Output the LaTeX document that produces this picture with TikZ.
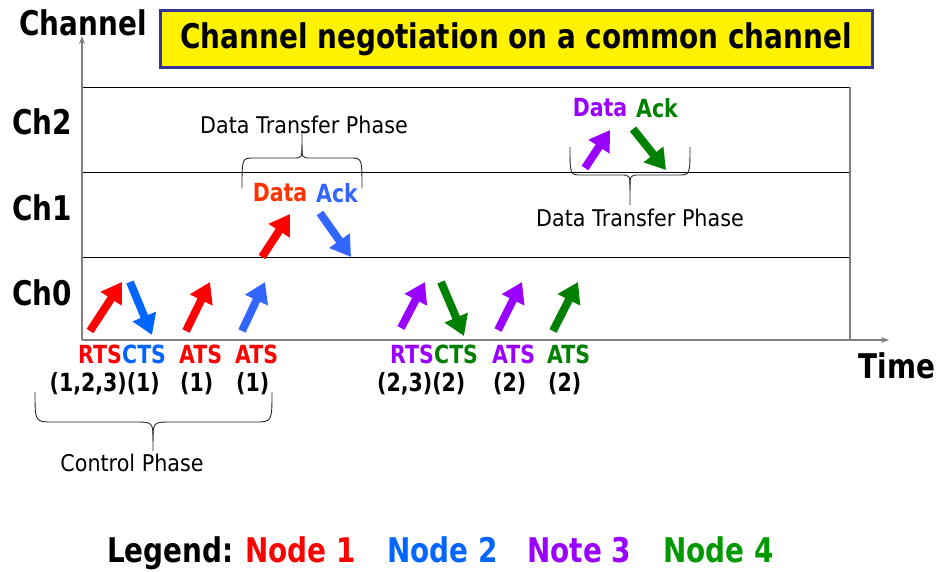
\documentclass[tikz,border=0pt]{standalone}
\usepackage{fontspec}
\setmainfont{DejaVu Sans}[FakeStretch=0.9]
\newfontfamily\narrowbold{DejaVu Sans}[FakeStretch=0.82]
\usetikzlibrary{arrows.meta}

\definecolor{nodeA}{HTML}{FF0000}
\definecolor{nodeB}{HTML}{0066FF}
\definecolor{nodeBl}{HTML}{3366FF}
\definecolor{nodeC}{HTML}{9900FF}
\definecolor{nodeD}{HTML}{008000}
\definecolor{nodeDl}{HTML}{009900}
\definecolor{dataRed}{HTML}{FF3300}
\definecolor{axisGray}{HTML}{808080}
\definecolor{frameBlue}{HTML}{333399}

\tikzset{
  big/.style={font=\narrowbold\bfseries\fontsize{34}{34}\selectfont, inner sep=0pt},
  lbl/.style={font=\narrowbold\bfseries\fontsize{25}{25}\selectfont, inner sep=0pt},
  note/.style={font=\fontsize{23}{23}\selectfont, inner sep=0pt},
  fat/.style={line width=8pt, line cap=butt, -{Triangle[width=24pt,length=20pt]}},
  axis/.style={draw=axisGray, line width=1.5pt, -{Stealth[width=6pt,length=8pt]}},
  grid/.style={draw=black, line width=1pt},
  brace/.style={draw=black!85, line width=0.9pt},
}

\begin{document}
\begin{tikzpicture}[x=1pt, y=-1pt]
\useasboundingbox (0,0) rectangle (943,571);

% channel rows
\draw[grid] (82,87) -- (850,87);
\draw[grid] (82,172) -- (850,172);
\draw[grid] (82,257) -- (850,257);
\draw[draw=axisGray, line width=1.5pt] (850,87) -- (850,340);

% axes
\coordinate (origin) at (82,340);
\coordinate (ytop) at (82,36);
\coordinate (xend) at (889,340);
\draw[axis] (origin) -- (ytop);
\draw[axis] (origin) -- (xend);

\node[big] (chlabel) at (83,23) {Channel};
\node[big] (timelabel) at (897,366) {Time};

% title
\node[draw=frameBlue, line width=3pt, fill=yellow, minimum width=712pt, minimum height=57pt, inner sep=0pt] (title) at (516,38.5) {};
\node[big] (titletext) at (516,39) {Channel negotiation on a common channel};

% channel names
\node[big] (ch2) at (42,122) {Ch2};
\node[big] (ch1) at (42,208) {Ch1};
\node[big] (ch0) at (42,293) {Ch0};

% control-channel message arrows
\coordinate (rtsAa) at (90,331);  \coordinate (rtsAb) at (122,282);
\coordinate (ctsBa) at (130,282); \coordinate (ctsBb) at (152,335);
\coordinate (atsAa) at (186,331); \coordinate (atsAb) at (210,282);
\coordinate (atsBa) at (242,331); \coordinate (atsBb) at (265,282);
\coordinate (rtsCa) at (401,328); \coordinate (rtsCb) at (425,282);
\coordinate (ctsDa) at (441,282); \coordinate (ctsDb) at (464,336);
\coordinate (atsCa) at (498,330); \coordinate (atsCb) at (522,282);
\coordinate (atsDa) at (553,331); \coordinate (atsDb) at (578,282);
\draw[fat, nodeA] (rtsAa) -- (rtsAb);
\draw[fat, nodeB] (ctsBa) -- (ctsBb);
\draw[fat, nodeA] (atsAa) -- (atsAb);
\draw[fat, nodeBl] (atsBa) -- (atsBb);
\draw[fat, nodeC] (rtsCa) -- (rtsCb);
\draw[fat, nodeD] (ctsDa) -- (ctsDb);
\draw[fat, nodeC] (atsCa) -- (atsCb);
\draw[fat, nodeD] (atsDa) -- (atsDb);

% data transfer arrows
\coordinate (dataAa) at (262,257); \coordinate (dataAb) at (290,214);
\coordinate (ackBa) at (320,213);  \coordinate (ackBb) at (351,257);
\coordinate (dataCa) at (585,168); \coordinate (dataCb) at (610,130);
\coordinate (ackDa) at (633,129);  \coordinate (ackDb) at (666,170);
\draw[fat, nodeA] (dataAa) -- (dataAb);
\draw[fat, nodeBl] (ackBa) -- (ackBb);
\draw[fat, nodeC] (dataCa) -- (dataCb);
\draw[fat, nodeD] (ackDa) -- (ackDb);

\node[lbl, text=dataRed] (dataA) at (280,193) {Data};
\node[lbl, text=nodeBl] (ackB) at (337,193) {Ack};
\node[lbl, text=nodeC] (dataC) at (600,108) {Data};
\node[lbl, text=nodeD] (ackD) at (657,108) {Ack};

% message names
\node[lbl, text=nodeA, anchor=base west] (rtsA) at (78,363) {RTS};
\node[lbl, text=nodeB, anchor=base west] (ctsB) at (rtsA.base east) {CTS};
\node[lbl, text=nodeA, anchor=base west] (atsA) at (179,363) {ATS};
\node[lbl, text=nodeA, anchor=base west] (atsB) at (235,363) {ATS};
\node[lbl, text=nodeC, anchor=base west] (rtsC) at (390,363) {RTS};
\node[lbl, text=nodeD, anchor=base west] (ctsD) at (rtsC.base east) {CTS};
\node[lbl, text=nodeC, anchor=base west] (atsC) at (492,363) {ATS};
\node[lbl, text=nodeD, anchor=base west] (atsD) at (547,363) {ATS};

% channel lists
\node[lbl, anchor=base east] (lstA) at (160,391) {(1,2,3)(1)};
\node[lbl, anchor=base west] (lstB) at (180,391) {(1)};
\node[lbl, anchor=base west] (lstC) at (236,391) {(1)};
\node[lbl, anchor=base west] (lstD) at (377,391) {(2,3)(2)};
\node[lbl, anchor=base west] (lstE) at (493,391) {(2)};
\node[lbl, anchor=base west] (lstF) at (548,391) {(2)};

% braces
\draw[brace] (242,188) .. controls (242,158) .. (254,158) -- (293,158) .. controls (302,158) .. (302,145) -- (302,132);
\draw[brace] (362,188) .. controls (362,158) .. (350,158) -- (311,158) .. controls (302,158) .. (302,145);
\draw[brace] (570,147) .. controls (570,175) .. (582,175) -- (621,175) .. controls (630,175) .. (630,190) -- (630,205);
\draw[brace] (690,147) .. controls (690,175) .. (678,175) -- (639,175) .. controls (630,175) .. (630,190);
\draw[brace] (35,392) .. controls (35,422) .. (53,422) -- (134,422) .. controls (153,422) .. (153,441) -- (153,451);
\draw[brace] (272,392) .. controls (272,422) .. (254,422) -- (172,422) .. controls (153,422) .. (153,441);

\node[note] (phaseA) at (304,125) {Data Transfer Phase};
\node[note] (phaseB) at (640,218) {Data Transfer Phase};
\node[note] (phaseC) at (132,463) {Control Phase};

% legend
\node[big, anchor=base west] (legend) at (107,562) {Legend:};
\node[big, anchor=base west, text=nodeA] (legA) at (245,562) {Node 1};
\node[big, anchor=base west, text=nodeB] (legB) at (387,562) {Node 2};
\node[big, anchor=base west, text=nodeC] (legC) at (527,562) {Note 3};
\node[big, anchor=base west, text=nodeDl] (legD) at (663,562) {Node 4};
\end{tikzpicture}
\end{document}
